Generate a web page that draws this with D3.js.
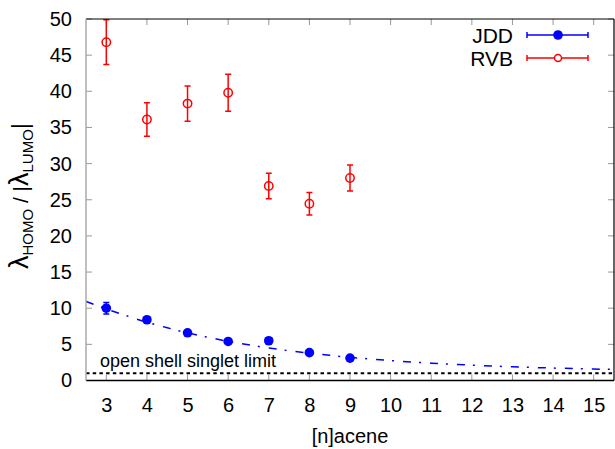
<!DOCTYPE html>
<html><head><meta charset="utf-8">
<script src="https://cdn.jsdelivr.net/npm/d3@7"></script>
<style>body{margin:0;background:#fff}svg{display:block}text{font-family:"Liberation Sans",Arial,sans-serif}</style>
</head><body><svg id="c" width="615" height="449"></svg>
<script>
const acenes = [3,4,5,6,7,8,9];
const jddValues = [10.0, 8.4, 6.6, 5.4, 5.5, 3.85, 3.1];
const jddErrors = [0.8, 0.3, 0.3, 0.3, 0.3, 0.3, 0.3];
const rvbValues = [46.8, 36.1, 38.3, 39.8, 26.9, 24.45, 28.0];
const rvbErrors = [3.1, 2.3, 2.45, 2.55, 1.75, 1.55, 1.8];
const fitN = [2.5,3,3.5,4,4.5,5,5.5,6,6.5,7,7.5,8,8.5,9,9.5,10,10.5,11,11.5,12,12.5,13,13.5,14,14.5,15,15.5];
const fitValues = [10.95,9.9,8.95,8.05,7.3,6.58,5.98,5.42,4.93,4.5,4.12,3.78,3.48,3.2,2.97,2.76,2.57,2.4,2.25,2.12,2.0,1.9,1.8,1.72,1.65,1.59,1.53];
const xTicks = [3,4,5,6,7,8,9,10,11,12,13,14,15];
const yTicks = [0,5,10,15,20,25,30,35,40,45,50];
const limitValue = 1;

const svg = d3.select("#c");
const L=86, R=614, T=19, B=380.5;
const x = d3.scaleLinear().domain([2.5,15.5]).range([L,R]);
const y = d3.scaleLinear().domain([0,50]).range([B,T]);

const defs = svg.append("defs");
defs.append("clipPath").attr("id","clip").append("rect").attr("x",L).attr("y",T).attr("width",R-L).attr("height",B-T);

// ticks (inward, gray)
const tg = svg.append("g").attr("stroke","#999").attr("stroke-width",1);
yTicks.forEach(v=>{
  tg.append("line").attr("x1",L).attr("x2",L+6).attr("y1",y(v)).attr("y2",y(v));
  tg.append("line").attr("x1",R).attr("x2",R-6).attr("y1",y(v)).attr("y2",y(v));
});
xTicks.forEach(v=>{
  tg.append("line").attr("x1",x(v)).attr("x2",x(v)).attr("y1",B).attr("y2",B-6);
  tg.append("line").attr("x1",x(v)).attr("x2",x(v)).attr("y1",T).attr("y2",T+6);
});

// tick labels via axes
const yAxis = svg.append("g").attr("transform",`translate(${L},0)`)
  .call(d3.axisLeft(y).tickValues(yTicks).tickSize(0).tickPadding(14));
yAxis.select(".domain").remove();
yAxis.selectAll("text").attr("font-size",20).attr("fill","#000").attr("font-family","Liberation Sans, Arial, sans-serif");
const xAxis = svg.append("g").attr("transform",`translate(0,${B})`)
  .call(d3.axisBottom(x).tickValues(xTicks).tickSize(0).tickPadding(17));
xAxis.select(".domain").remove();
xAxis.selectAll("text").attr("font-size",20).attr("fill","#000").attr("font-family","Liberation Sans, Arial, sans-serif");

const plot = svg.append("g").attr("clip-path","url(#clip)");

// limit line
plot.append("line").attr("x1",L).attr("x2",R).attr("y1",y(limitValue)).attr("y2",y(limitValue))
  .attr("stroke","#000").attr("stroke-width",2).attr("stroke-dasharray","3.5,3.2");

// fit line
const fitLine = d3.line().x((d,i)=>x(fitN[i])).y(d=>y(d)).curve(d3.curveMonotoneX);
plot.append("path").attr("d",fitLine(fitValues)).attr("fill","none").attr("stroke","#0000ff")
  .attr("stroke-width",1.5).attr("stroke-dasharray","8,8,2,9");

// label
svg.append("text").attr("x",100).attr("y",367).attr("font-size",18).text("open shell singlet limit");

// error bars
function errBars(vals, errs, color){
  const g = plot.append("g").attr("stroke",color).attr("stroke-width",1.5);
  vals.forEach((v,i)=>{
    const cx=x(acenes[i]), y1=y(v+errs[i]), y2=y(v-errs[i]);
    g.append("line").attr("x1",cx).attr("x2",cx).attr("y1",y1).attr("y2",y2);
    g.append("line").attr("x1",cx-3).attr("x2",cx+3).attr("y1",y1).attr("y2",y1);
    g.append("line").attr("x1",cx-3).attr("x2",cx+3).attr("y1",y2).attr("y2",y2);
  });
}
errBars(rvbValues, rvbErrors, "#ff0000");
errBars(jddValues, jddErrors, "#0000ff");

plot.append("g").selectAll("circle").data(rvbValues).join("circle")
  .attr("cx",(d,i)=>x(acenes[i])).attr("cy",d=>y(d)).attr("r",4.2)
  .attr("fill","none").attr("stroke","#ff0000").attr("stroke-width",1.5);
plot.append("g").selectAll("circle").data(jddValues).join("circle")
  .attr("cx",(d,i)=>x(acenes[i])).attr("cy",d=>y(d)).attr("r",4.8)
  .attr("fill","#0000ff");

// borders
svg.append("line").attr("x1",L).attr("x2",R).attr("y1",T).attr("y2",T).attr("stroke","#000").attr("stroke-width",1.2);
svg.append("line").attr("x1",R).attr("x2",R).attr("y1",T).attr("y2",B).attr("stroke","#000").attr("stroke-width",1.2);
svg.append("line").attr("x1",L).attr("x2",R).attr("y1",B).attr("y2",B).attr("stroke","#000").attr("stroke-width",1.5);
svg.append("line").attr("x1",L).attr("x2",L).attr("y1",T).attr("y2",B).attr("stroke","#aaa").attr("stroke-width",1.5);

// legend
const legend = [{name:"JDD",color:"#0000ff",filled:true,y:35},{name:"RVB",color:"#ff0000",filled:false,y:58}];
legend.forEach(l=>{
  svg.append("text").attr("x",513).attr("y",l.y+7.5).attr("text-anchor","end").attr("font-size",21).text(l.name);
  const g = svg.append("g").attr("stroke",l.color).attr("stroke-width",1.5);
  g.append("line").attr("x1",527).attr("x2",588).attr("y1",l.y).attr("y2",l.y);
  g.append("line").attr("x1",527).attr("x2",527).attr("y1",l.y-3).attr("y2",l.y+3);
  g.append("line").attr("x1",588).attr("x2",588).attr("y1",l.y-3).attr("y2",l.y+3);
  if(l.filled) svg.append("circle").attr("cx",558).attr("cy",l.y).attr("r",4.8).attr("fill",l.color);
  else svg.append("circle").attr("cx",558).attr("cy",l.y).attr("r",3.5).attr("fill","#fff").attr("stroke",l.color).attr("stroke-width",1.5);
});

// axis titles
svg.append("text").attr("x",(L+R)/2).attr("y",443).attr("text-anchor","middle").attr("font-size",20).text("[n]acene");
const yl = svg.append("text").attr("transform",`translate(28,196) rotate(-90)`).attr("text-anchor","middle").attr("font-size",21);
yl.append("tspan").attr("font-size",27).text("λ");
yl.append("tspan").attr("dy",5).attr("font-size",15).text("HOMO");
yl.append("tspan").attr("dy",-5).text(" / |");
yl.append("tspan").attr("font-size",27).text("λ");
yl.append("tspan").attr("dy",5).attr("font-size",15).text("LUMO");
yl.append("tspan").attr("dy",-5).attr("font-size",24).text("|");
</script></body></html>
